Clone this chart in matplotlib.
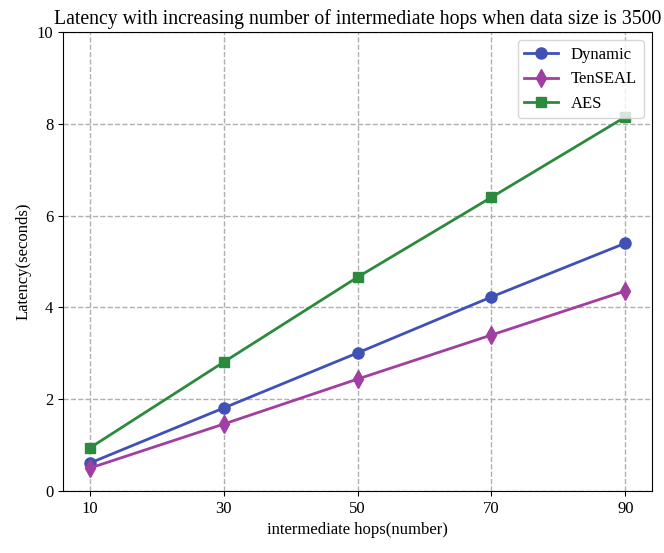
import matplotlib.pyplot as plt

plt.rcParams['font.family'] = ['Liberation Serif', 'DejaVu Serif']

hops = [10, 30, 50, 70, 90]
dynamic = [0.61, 1.81, 3.01, 4.23, 5.40]
tenseal = [0.50, 1.46, 2.44, 3.40, 4.36]
aes = [0.94, 2.81, 4.66, 6.40, 8.15]

fig = plt.figure(figsize=(6.64, 5.53), dpi=100)
ax = fig.add_axes([0.095, 0.112, 0.887, 0.830])

ax.plot(hops, dynamic, color='#3f51b5', marker='o', markersize=8, lw=2, label='Dynamic')
ax.plot(hops, tenseal, color='#a13ea1', marker='d', markersize=9, lw=2, label='TenSEAL')
ax.plot(hops, aes, color='#2b8a3e', marker='s', markersize=7, lw=2, label='AES')

ax.set_ylim(0, 10)
ax.set_xticks(hops)
ax.grid(True, linestyle='--', color='#b0b0b0', lw=1)
ax.set_title('Latency with increasing number of intermediate hops when data size is 3500', fontsize=14.2)
ax.set_xlabel('intermediate hops(number)', fontsize=12)
ax.set_ylabel('Latency(seconds)', fontsize=12)
ax.tick_params(labelsize=12)
ax.legend(loc='upper right', fontsize=12)

fig.savefig('out.png', dpi=100)
